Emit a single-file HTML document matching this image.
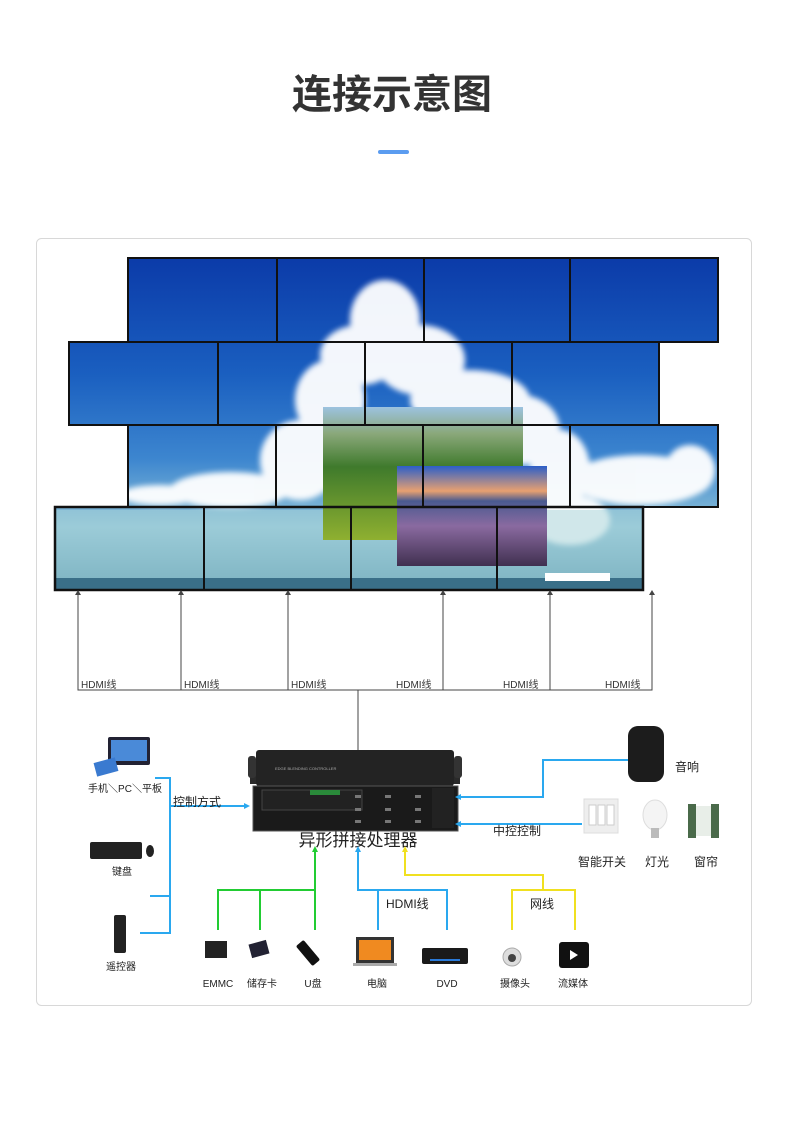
<!DOCTYPE html>
<html><head><meta charset="utf-8"><style>
html,body{margin:0;padding:0;background:#fff;}
body{width:790px;height:1126px;position:relative;overflow:hidden;font-family:"Liberation Sans","Noto Sans CJK SC",sans-serif;}
</style></head><body>
<svg width="790" height="1126" viewBox="0 0 790 1126" xmlns="http://www.w3.org/2000/svg" style="position:absolute;left:0;top:0">
<defs>
<linearGradient id="sky" x1="0" y1="0" x2="0" y2="1">
<stop offset="0" stop-color="#0b3aa8"/><stop offset="0.35" stop-color="#1a5fc0"/><stop offset="0.6" stop-color="#3d86cf"/><stop offset="0.8" stop-color="#8fc3d8"/><stop offset="1" stop-color="#4e8fa8"/>
</linearGradient>
<linearGradient id="land" x1="0" y1="0" x2="0" y2="1"><stop offset="0" stop-color="#9cc3e0"/><stop offset="0.2" stop-color="#8aa87a"/><stop offset="0.45" stop-color="#3f7a2c"/><stop offset="1" stop-color="#8fb030"/></linearGradient>
<linearGradient id="city" x1="0" y1="0" x2="0" y2="1"><stop offset="0" stop-color="#2c5fc8"/><stop offset="0.25" stop-color="#e8a070"/><stop offset="0.35" stop-color="#4a5a90"/><stop offset="0.6" stop-color="#8a6aa0"/><stop offset="1" stop-color="#403050"/></linearGradient>
<clipPath id="wall"><rect x="128" y="258" width="590" height="84"/><rect x="69" y="342" width="590" height="83"/><rect x="128" y="425" width="590" height="82"/><rect x="55" y="507" width="588" height="83"/></clipPath>
<filter id="bl"><feGaussianBlur stdDeviation="3"/></filter>
</defs>
<text x="392" y="108" text-anchor="middle" font-size="40" font-weight="bold" fill="#333" font-family="Liberation Sans,Noto Sans CJK SC,sans-serif">连接示意图</text>
<rect x="378" y="150" width="31" height="4" rx="2" fill="#5b9cf0"/>
<rect x="36.5" y="238.5" width="715" height="767" rx="5" fill="#fff" stroke="#d8d8d8"/>
<g clip-path="url(#wall)">
<rect x="50" y="255" width="680" height="340" fill="url(#sky)"/>
<g fill="#fff" filter="url(#bl)" opacity="0.95">
<ellipse cx="385" cy="320" rx="35" ry="40"/><ellipse cx="360" cy="355" rx="40" ry="30"/><ellipse cx="420" cy="360" rx="45" ry="35"/>
<ellipse cx="330" cy="400" rx="35" ry="40"/><ellipse cx="470" cy="400" rx="60" ry="30"/><ellipse cx="520" cy="430" rx="40" ry="35"/>
<ellipse cx="300" cy="460" rx="40" ry="40"/><ellipse cx="560" cy="470" rx="30" ry="40"/><ellipse cx="640" cy="480" rx="70" ry="25"/><ellipse cx="690" cy="470" rx="25" ry="25"/>
<ellipse cx="230" cy="490" rx="60" ry="18"/><ellipse cx="160" cy="495" rx="40" ry="10"/><ellipse cx="570" cy="520" rx="40" ry="25"/>
</g>
<rect x="55" y="510" width="590" height="70" fill="#a8d4d8" opacity="0.5"/>
<rect x="55" y="578" width="590" height="12" fill="#3a6f88"/>
<rect x="545" y="573" width="65" height="8" fill="#fff"/>
<rect x="323" y="407" width="200" height="133" fill="url(#land)"/>
<rect x="397" y="466" width="150" height="100" fill="url(#city)"/>
</g>
<g stroke="#111" stroke-width="2" fill="none">
<rect x="128" y="258" width="590" height="84"/><rect x="69" y="342" width="590" height="83"/><rect x="128" y="425" width="590" height="82"/><rect x="55" y="507" width="588" height="83" stroke-width="2.5"/>
<path d="M277 258V342M424 258V342M570 258V342M218 342V425M365 342V425M512 342V425M276 425V507M423 425V507M570 425V507M204 507V590M351 507V590M497 507V590"/>
</g>
<g stroke="#444" stroke-width="1" fill="none">
<path d="M78 593V690H652V593M181 593V690M288 593V690M443 593V690M550 593V690M358 690V752"/>
</g>
<g fill="#444"><path d="M78 590l-3 5h6zM181 590l-3 5h6zM288 590l-3 5h6zM443 590l-3 5h6zM550 590l-3 5h6zM652 590l-3 5h6z"/></g>
<g font-size="10" fill="#333">
<text x="81" y="688">HDMI线</text><text x="184" y="688">HDMI线</text><text x="291" y="688">HDMI线</text><text x="396" y="688">HDMI线</text><text x="503" y="688">HDMI线</text><text x="605" y="688">HDMI线</text>
</g>
<rect x="250" y="762" width="210" height="22" fill="#2a2a2a"/>
<rect x="256" y="750" width="198" height="36" rx="3" fill="#232323"/>
<rect x="248" y="756" width="8" height="22" rx="3" fill="#333"/><rect x="454" y="756" width="8" height="22" rx="3" fill="#333"/>
<text x="275" y="770" font-size="4" fill="#aaa">EDGE BLENDING CONTROLLER</text>
<rect x="253" y="786" width="205" height="45" fill="#1a1a1a" stroke="#555"/>
<rect x="262" y="790" width="100" height="20" fill="#222" stroke="#444"/>
<rect x="310" y="790" width="30" height="5" fill="#2a8a3a"/>
<g fill="#777"><rect x="355" y="795" width="6" height="3"/><rect x="385" y="795" width="6" height="3"/><rect x="415" y="795" width="6" height="3"/><rect x="355" y="808" width="6" height="3"/><rect x="385" y="808" width="6" height="3"/><rect x="415" y="808" width="6" height="3"/><rect x="355" y="820" width="6" height="3"/><rect x="385" y="820" width="6" height="3"/><rect x="415" y="820" width="6" height="3"/></g>
<rect x="432" y="788" width="22" height="40" fill="#222"/>
<text x="358" y="846" text-anchor="middle" font-size="17" fill="#222">异形拼接处理器</text>
<g stroke="#2aa8ef" stroke-width="2" fill="none"><path d="M155 778H170V933H140M150 896H170M170 806H248"/></g>
<path d="M250 806l-6-3v6z" fill="#2aa8ef"/>
<text x="173" y="806" font-size="12" fill="#222">控制方式</text>
<rect x="108" y="737" width="42" height="28" rx="2" fill="#223" /><rect x="111" y="740" width="36" height="21" fill="#4a8ad8"/>
<rect x="95" y="760" width="22" height="14" fill="#3a7ad0" transform="rotate(-15 106 767)"/>
<text x="125" y="792" text-anchor="middle" font-size="10" fill="#222">手机＼PC＼平板</text>
<rect x="90" y="842" width="52" height="17" rx="2" fill="#222"/><ellipse cx="150" cy="851" rx="4" ry="6" fill="#222"/>
<text x="122" y="875" text-anchor="middle" font-size="10" fill="#222">键盘</text>
<rect x="114" y="915" width="12" height="38" rx="2" fill="#222"/>
<text x="121" y="970" text-anchor="middle" font-size="10" fill="#222">遥控器</text>
<g stroke="#2aa8ef" stroke-width="2" fill="none"><path d="M633 760H543V797H458M582 824H458"/></g>
<path d="M455 797l6-3v6zM455 824l6-3v6z" fill="#2aa8ef"/>
<rect x="628" y="726" width="36" height="56" rx="10" fill="#1c1c1c"/>
<text x="675" y="771" font-size="12" fill="#222">音响</text>
<rect x="584" y="799" width="34" height="34" fill="#eee" stroke="#ddd"/><rect x="589" y="805" width="7" height="20" fill="#fff" stroke="#ccc"/><rect x="598" y="805" width="7" height="20" fill="#fff" stroke="#ccc"/><rect x="607" y="805" width="7" height="20" fill="#fff" stroke="#ccc"/>
<ellipse cx="655" cy="815" rx="12" ry="15" fill="#f4f4f4" stroke="#ddd"/><rect x="651" y="828" width="8" height="10" fill="#bbb"/>
<rect x="688" y="804" width="8" height="34" fill="#4a6a4a"/><rect x="711" y="804" width="8" height="34" fill="#4a6a4a"/><rect x="696" y="806" width="15" height="30" fill="#e8eee8"/>
<text x="493" y="835" font-size="12" fill="#222">中控控制</text>
<text x="578" y="866" font-size="12" fill="#222">智能开关</text><text x="645" y="866" font-size="12" fill="#222">灯光</text><text x="694" y="866" font-size="12" fill="#222">窗帘</text>
<g stroke="#22cc33" stroke-width="2" fill="none"><path d="M218 930V890H315V930M260 890V930M315 890V850"/></g>
<path d="M315 846l-3 6h6z" fill="#22cc33"/>
<g stroke="#2aa8ef" stroke-width="2" fill="none"><path d="M358 850V890H447V930M378 890V930"/></g>
<path d="M358 846l-3 6h6z" fill="#2aa8ef"/>
<g stroke="#f0e020" stroke-width="2" fill="none"><path d="M405 850V875H543V890M512 930V890H575V930"/></g>
<path d="M405 846l-3 6h6z" fill="#f0e020"/>
<text x="386" y="908" font-size="12" fill="#222">HDMI线</text>
<text x="530" y="908" font-size="12" fill="#222">网线</text>
<rect x="205" y="941" width="22" height="17" fill="#222"/>
<rect x="250" y="942" width="18" height="14" fill="#223" transform="rotate(-15 259 949)"/>
<rect x="303" y="940" width="10" height="26" rx="2" fill="#111" transform="rotate(-40 308 953)"/>
<rect x="356" y="937" width="38" height="26" fill="#333"/><rect x="359" y="940" width="32" height="20" fill="#f08a20"/><rect x="353" y="963" width="44" height="3" fill="#aaa"/>
<rect x="422" y="948" width="46" height="16" rx="2" fill="#1a1a1a"/><rect x="430" y="959" width="30" height="2" fill="#2a7ad8"/>
<circle cx="512" cy="957" r="9" fill="#ddd" stroke="#aaa"/><circle cx="512" cy="958" r="4" fill="#444"/>
<rect x="559" y="942" width="30" height="26" rx="3" fill="#111"/><path d="M570 950v10l8-5z" fill="#fff"/>
<g font-size="10" fill="#222" text-anchor="middle">
<text x="218" y="987">EMMC</text><text x="262" y="987">储存卡</text><text x="313" y="987">U盘</text><text x="377" y="987">电脑</text><text x="447" y="987">DVD</text><text x="515" y="987">摄像头</text><text x="573" y="987">流媒体</text>
</g>
</svg>
</body></html>
